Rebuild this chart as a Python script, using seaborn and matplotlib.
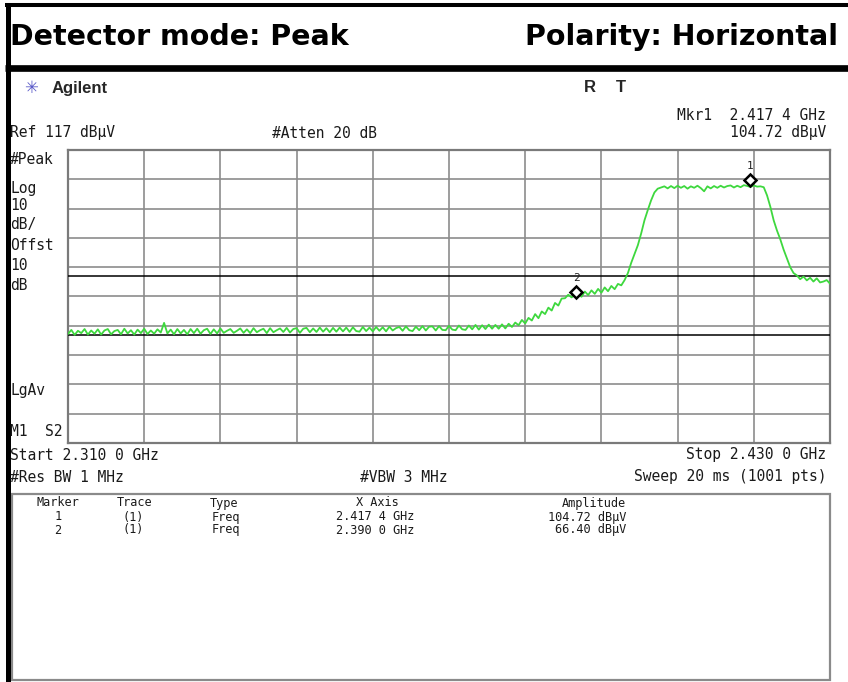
import numpy as np
import matplotlib
matplotlib.use("Agg")
import matplotlib.pyplot as plt
import matplotlib.transforms as mtransforms
from matplotlib.lines import Line2D
from matplotlib.patches import Rectangle
import seaborn as sns

# Sweep settings (GHz shown as MHz internally)
start_mhz = 2310.0
stop_mhz = 2430.0
ref_level = 117
db_per_div = 10

# Trace, 0.5 MHz steps from 2310 to 2430 MHz (dBuV)
trace_amp = [
    54.2, 55.6, 53.9, 55.3, 54.5, 55.9, 54.0, 55.4, 54.3, 55.8,
    54.0, 55.4, 55.9, 54.1, 55.2, 55.6, 54.1, 56.0, 54.4, 55.5,
    54.0, 55.7, 54.5, 56.0, 54.2, 55.4, 54.3, 55.8, 54.7, 58.0,
    54.4, 55.7, 54.1, 55.9, 54.4, 55.6, 54.1, 55.9, 54.5, 56.0,
    54.3, 55.5, 56.0, 54.2, 55.8, 54.4, 56.1, 54.6, 55.3, 55.9,
    54.6, 55.3, 56.1, 54.6, 55.8, 54.5, 56.2, 54.8, 55.5, 56.0,
    54.5, 56.2, 54.8, 55.5, 56.1, 54.9, 56.3, 54.7, 55.9, 56.2,
    54.6, 56.0, 56.3, 54.8, 56.1, 54.9, 56.4, 55.0, 56.2, 54.8,
    56.3, 55.0, 56.4, 55.1, 56.4, 54.9, 56.5, 55.2, 55.0, 56.6,
    55.2, 56.4, 55.1, 56.6, 55.3, 56.5, 55.1, 56.7, 55.4, 56.2,
    56.6, 55.3, 56.8, 55.5, 55.2, 56.7, 55.5, 56.9, 55.4, 56.7,
    56.8, 55.4, 56.9, 55.6, 55.5, 57.0, 55.7, 55.5, 57.1, 55.8,
    55.6, 57.1, 55.8, 57.3, 55.7, 57.2, 55.9, 57.4, 56.0, 57.3,
    56.0, 57.5, 56.1, 57.7, 56.6, 58.1, 57.2, 59.0, 57.8, 59.7,
    58.8, 61.0, 59.6, 61.9, 61.0, 63.2, 62.2, 64.8, 63.9, 66.3,
    66.4, 67.6, 66.7, 67.5, 67.9, 66.9, 68.7, 67.5, 69.1, 67.9,
    69.6, 68.3, 70.1, 68.8, 70.6, 69.5, 71.3, 70.8, 72.6, 75.0,
    78.5, 81.5, 84.5, 88.5, 93.0, 96.5, 99.8, 102.5, 103.8, 104.2,
    104.6, 103.9, 104.7, 104.0, 104.8, 104.1, 104.7, 103.8, 104.6, 104.1,
    104.8, 104.0, 102.9, 104.6, 103.9, 104.7, 104.1, 104.8, 104.2, 104.7,
    104.9, 104.2, 104.8, 104.3, 105.0, 104.72, 104.4, 104.9, 104.5, 104.6,
    104.3, 101.5, 97.6, 93.0, 89.5, 86.5, 83.0, 80.0, 77.0, 75.0,
    74.2, 72.9, 73.8, 72.5, 73.4, 72.1, 73.2, 71.8, 72.1, 72.6,
    71.4,
]
trace_freq = np.linspace(start_mhz, stop_mhz, len(trace_amp))

# Limit lines (dBuV) and markers
limit_lines = [74, 54]
marker_ids = ["1", "2"]
marker_freq = [2417.4, 2390.0]
marker_amp = [104.72, 66.40]
marker_trace = ["(1)", "(1)"]
marker_type = ["Freq", "Freq"]
marker_xaxis = ["2.417 4 GHz", "2.390 0 GHz"]
marker_ampl = ["104.72 dBµV", "66.40 dBµV"]

W, H = 848, 682


def fx(x):
    return x / W


def fy(y):
    return 1 - y / H


sns.set_style("white")
plt.rcParams["font.family"] = ["DejaVu Sans Mono", "DejaVu Sans"]

fig = plt.figure(figsize=(W / 100, H / 100), dpi=100)

# Spectrum display area
ax = fig.add_axes([fx(68), fy(443), fx(830) - fx(68), fy(150) - fy(443)])
sns.lineplot(x=trace_freq, y=trace_amp, ax=ax, color="#3ed83e", linewidth=1.3, zorder=4)
for lim in limit_lines:
    ax.axhline(lim, color="black", linewidth=1.1, zorder=3)

ax.set_xlim(start_mhz, stop_mhz)
ax.set_ylim(ref_level - 10 * db_per_div, ref_level)
ax.set_xticks(np.linspace(start_mhz, stop_mhz, 11))
ax.set_yticks(np.arange(ref_level - 10 * db_per_div, ref_level + 1, db_per_div))
ax.grid(True, color="#8c8c8c", linewidth=1.2, zorder=1)
ax.tick_params(length=0, labelbottom=False, labelleft=False)
ax.set_xlabel("")
ax.set_ylabel("")
for sp in ax.spines.values():
    sp.set_color("#7a7a7a")
    sp.set_linewidth(1.6)

# marker diamonds sit just above the trace
mk_tr = mtransforms.offset_copy(ax.transData, fig=fig, x=0, y=6, units="dots")
lab_tr = mtransforms.offset_copy(ax.transData, fig=fig, x=0, y=20, units="dots")
ax.plot(marker_freq, marker_amp, linestyle="none", marker="D", markersize=6,
        markerfacecolor="white", markeredgecolor="black", markeredgewidth=1.8,
        transform=mk_tr, zorder=5)
for mid, f, a in zip(marker_ids, marker_freq, marker_amp):
    ax.text(f, a, mid, transform=lab_tr, ha="center", va="center", fontsize=8, color="#222222")

# Outer frame and title band
fig.add_artist(Line2D([fx(5), 1], [fy(5.3), fy(5.3)], color="black", linewidth=2.9,
                      solid_capstyle="butt"))
fig.add_artist(Line2D([fx(5), 1], [fy(68.3), fy(68.3)], color="black", linewidth=4.8,
                      solid_capstyle="butt"))
fig.add_artist(Line2D([fx(7.5), fx(7.5)], [0, fy(3.3)], color="black", linewidth=3.6,
                      solid_capstyle="butt"))

title_font = dict(family=["DejaVu Sans"], fontsize=20.5, fontweight="bold", va="center", color="black")
fig.text(fx(10), fy(37), "Detector mode: Peak", ha="left", **title_font)
fig.text(fx(838), fy(37), "Polarity: Horizontal", ha="right", **title_font)

# Instrument header
fig.text(fx(31), fy(88), "✳", ha="center", va="center", fontsize=12, color="#5a5ac8",
         family=["DejaVu Sans"])
fig.text(fx(52), fy(88), "Agilent", ha="left", va="center", fontsize=12,
         fontweight="bold", family=["Liberation Sans", "DejaVu Sans"])
fig.text(fx(590), fy(88), "R", ha="center", va="center", fontsize=12,
         fontweight="bold", family=["Liberation Sans", "DejaVu Sans"])
fig.text(fx(621), fy(88), "T", ha="center", va="center", fontsize=12,
         fontweight="bold", family=["Liberation Sans", "DejaVu Sans"])

mono = dict(fontsize=10.5, va="center", color="#1a1a1a")
fig.text(fx(826), fy(115), "Mkr1  2.417 4 GHz", ha="right", **mono)
fig.text(fx(10), fy(133), "Ref 117 dBµV", ha="left", **mono)
fig.text(fx(272), fy(133), "#Atten 20 dB", ha="left", **mono)
fig.text(fx(826), fy(133), "104.72 dBµV", ha="right", **mono)

side_labels = [("#Peak", 160), ("Log", 188), ("10", 206), ("dB/", 225),
               ("Offst", 245), ("10", 266), ("dB", 285), ("LgAv", 390), ("M1  S2", 432)]
for txt, yy in side_labels:
    fig.text(fx(10), fy(yy), txt, ha="left", **mono)

fig.text(fx(10), fy(455), "Start 2.310 0 GHz", ha="left", **mono)
fig.text(fx(826), fy(455), "Stop 2.430 0 GHz", ha="right", **mono)
fig.text(fx(10), fy(477), "#Res BW 1 MHz", ha="left", **mono)
fig.text(fx(360), fy(477), "#VBW 3 MHz", ha="left", **mono)
fig.text(fx(826), fy(477), "Sweep 20 ms (1001 pts)", ha="right", **mono)

# Marker table
fig.add_artist(Rectangle((fx(11.5), fy(680)), fx(830) - fx(11.5), fy(494) - fy(680),
                         fill=False, edgecolor="#8a8a8a", linewidth=1.6))
tab = dict(fontsize=8.6, va="center", color="#1a1a1a")
fig.text(fx(58), fy(503), "Marker", ha="center", **tab)
fig.text(fx(135), fy(503), "Trace", ha="center", **tab)
fig.text(fx(210), fy(503), "Type", ha="left", **tab)
fig.text(fx(377), fy(503), "X Axis", ha="center", **tab)
fig.text(fx(626), fy(503), "Amplitude", ha="right", **tab)
for i, yy in enumerate([517, 530]):
    fig.text(fx(58), fy(yy), marker_ids[i], ha="center", **tab)
    fig.text(fx(133), fy(yy), marker_trace[i], ha="center", **tab)
    fig.text(fx(212), fy(yy), marker_type[i], ha="left", **tab)
    fig.text(fx(375), fy(yy), marker_xaxis[i], ha="center", **tab)
    fig.text(fx(626), fy(yy), marker_ampl[i], ha="right", **tab)

fig.savefig("out.png", dpi=100)
